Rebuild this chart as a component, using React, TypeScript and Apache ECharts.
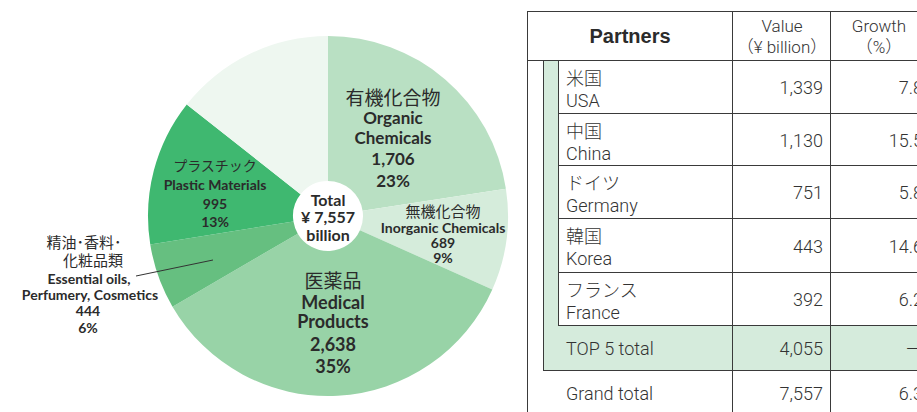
import React, { useEffect, useRef } from "react";
import * as echarts from "echarts";

// ---- Data ----
const categoriesJa = ["有機化合物", "無機化合物", "医薬品", "精油･香料･\n化粧品類", "プラスチック", "その他"];
const categoriesEn = ["Organic\nChemicals", "Inorganic Chemicals", "Medical\nProducts", "Essential oils,\nPerfumery, Cosmetics", "Plastic Materials", "Others"];
const values = [1706, 689, 2638, 444, 995, 1085];
const totalValue = 7557;
const sliceColors = ["#b9e0c3", "#d5ecdb", "#98d3a7", "#66bf80", "#3fb870", "#eef7f0"];

const partnersJa = ["米国", "中国", "ドイツ", "韓国", "フランス"];
const partnersEn = ["USA", "China", "Germany", "Korea", "France"];
const partnerValues = [1339, 1130, 751, 443, 392];
const partnerGrowth = ["7.8", "15.5", "5.8", "14.6", "6.2"];
const top5Total = 4055;
const top5Growth = "—";
const grandTotal = 7557;
const grandGrowth = "6.3";

const fmt = (v: number) => v.toLocaleString("en-US");

// label layout per slice (positions only)
const labelLayout: any[] = [
  { ja: [[393, 96]], en: [[393, 117], [393, 137]], val: [393, 158], pct: [393, 180], jaSize: 19, enSize: 17, numSize: 17 },
  { ja: [[443, 210]], en: [[443, 227]], val: [443, 242], pct: [443, 257], jaSize: 15, enSize: 14, numSize: 14 },
  { ja: [[333, 279]], en: [[333, 302], [333, 321]], val: [333, 344], pct: [333, 366], jaSize: 19, enSize: 18, numSize: 18 },
  { ja: [[84, 241], [93, 259]], en: [[89, 278], [90, 294]], val: [88, 310], pct: [88, 327], jaSize: 15, enSize: 14, numSize: 14 },
  { ja: [[215, 165]], en: [[215, 184]], val: [215, 203], pct: [215, 221], jaSize: 14, enSize: 14, numSize: 14 },
  null,
];

const TXT = "#2b2b2b";
const LINE = "#3a3a3a";
const GREEN = "#d5ebdc";
const latin = "Lato, 'Noto Sans', sans-serif";
const cjk = "'Noto Sans CJK JP', sans-serif";
const tfont = "Roboto, 'Liberation Sans', 'Noto Sans CJK JP', sans-serif";

function text(x: number, y: number, t: string, size: number, opts: any = {}) {
  return {
    type: "text",
    x,
    y,
    z: 100,
    silent: true,
    style: {
      text: t,
      fill: opts.fill || TXT,
      font: `${opts.weight || "normal"} ${size}px ${opts.family || latin}`,
      textAlign: opts.align || "center",
      textVerticalAlign: "middle",
    },
  } as any;
}

function line(x1: number, y1: number, x2: number, y2: number) {
  return {
    type: "line",
    z: 50,
    silent: true,
    shape: { x1, y1, x2, y2 },
    style: { stroke: LINE, lineWidth: 1 },
  } as any;
}

export default function App() {
  const ref = useRef<HTMLDivElement>(null);
  useEffect(() => {
    if (!ref.current) return;
    const chart = echarts.init(ref.current, null, { renderer: "svg" });
    const graphics: any[] = [];

    // pie labels
    values.forEach((v, i) => {
      const L = labelLayout[i];
      if (!L) return;
      const jaLines = categoriesJa[i].split("\n");
      jaLines.forEach((s, k) => graphics.push(text(L.ja[k][0], L.ja[k][1], s, L.jaSize, { family: cjk })));
      const enLines = categoriesEn[i].split("\n");
      enLines.forEach((s, k) => graphics.push(text(L.en[k][0], L.en[k][1], s, L.enSize, { weight: "bold" })));
      graphics.push(text(L.val[0], L.val[1], fmt(v), L.numSize, { weight: "bold" }));
      graphics.push(text(L.pct[0], L.pct[1], Math.round((v / totalValue) * 100) + "%", L.numSize, { weight: "bold" }));
    });
    // leader line for essential oils
    graphics.push({ type: "line", z: 100, silent: true, shape: { x1: 136, y1: 276, x2: 213, y2: 260 }, style: { stroke: "#333", lineWidth: 1 } });
    // center
    graphics.push(text(328, 199, "Total", 16, { weight: "bold" }));
    graphics.push(text(328, 216, "¥ " + fmt(totalValue), 16, { weight: "bold" }));
    graphics.push(text(328, 234, "billion", 16, { weight: "bold" }));

    // ---- table ----
    const L0 = 527, LG = 543, LI = 558, C1 = 732, C2 = 830, R = 917;
    const T = 11, H = 60;
    const rowTops = [60, 113, 165, 218, 272, 325];
    const T5B = 370, B = 412;
    graphics.push({ type: "rect", z: 40, silent: true, shape: { x: LG, y: H, width: LI - LG, height: T5B - H }, style: { fill: GREEN } });
    graphics.push({ type: "rect", z: 40, silent: true, shape: { x: LG, y: 325, width: R - LG, height: T5B - 325 }, style: { fill: GREEN } });
    graphics.push(line(L0 + 0.5, T, L0 + 0.5, B));
    graphics.push(line(L0, T + 0.5, R, T + 0.5));
    graphics.push(line(L0, H + 0.5, R, H + 0.5));
    graphics.push(line(C1 + 0.5, T, C1 + 0.5, B));
    graphics.push(line(C2 + 0.5, T, C2 + 0.5, B));
    graphics.push(line(LG + 0.5, H, LG + 0.5, T5B));
    graphics.push(line(LI + 0.5, H, LI + 0.5, 325));
    rowTops.slice(1).forEach((y) => graphics.push(line(LI, y + 0.5, R, y + 0.5)));
    graphics.push(line(LG, T5B + 0.5, R, T5B + 0.5));

    const tOpts = { family: tfont, weight: 300, fill: "#333" };
    graphics.push(text(630, 36, "Partners", 20, { weight: "bold", family: "'Liberation Sans', Arial, sans-serif" }));
    graphics.push(text(782, 26, "Value", 17, tOpts));
    graphics.push(text(782, 47, "（¥ billion）", 17, tOpts));
    graphics.push(text(879, 26, "Growth", 17, tOpts));
    graphics.push(text(879, 47, "（%）", 17, tOpts));

    partnersJa.forEach((ja, i) => {
      const t = rowTops[i];
      const b = rowTops[i + 1];
      const mid = (t + b) / 2;
      graphics.push(text(566, t + 17, ja, 18, { ...tOpts, family: cjk, align: "left" }));
      graphics.push(text(566, t + 40, partnersEn[i], 18, { ...tOpts, align: "left" }));
      graphics.push(text(823, mid + 1, fmt(partnerValues[i]), 18, { ...tOpts, align: "right" }));
      graphics.push(text(923, mid + 1, partnerGrowth[i], 18, { ...tOpts, align: "right" }));
    });
    graphics.push(text(566, 348, "TOP 5 total", 18, { ...tOpts, align: "left" }));
    graphics.push(text(823, 348, fmt(top5Total), 18, { ...tOpts, align: "right" }));
    graphics.push(text(906, 348, top5Growth, 18, { ...tOpts, align: "left" }));
    graphics.push(text(566, 393, "Grand total", 18, { ...tOpts, align: "left" }));
    graphics.push(text(823, 393, fmt(grandTotal), 18, { ...tOpts, align: "right" }));
    graphics.push(text(923, 393, grandGrowth, 18, { ...tOpts, align: "right" }));

    chart.setOption({
      animation: false,
      backgroundColor: "#ffffff",
      series: [
        {
          type: "pie",
          z: 2,
          center: [328, 216],
          radius: [35, 180],
          startAngle: 90,
          clockwise: true,
          label: { show: false },
          labelLine: { show: false },
          emphasis: { disabled: true },
          itemStyle: { borderWidth: 0 },
          data: values.map((v, i) => ({
            name: categoriesEn[i].replace("\n", " "),
            value: v,
            itemStyle: { color: sliceColors[i] },
          })),
        },
      ],
      graphic: { elements: graphics },
    });
    return () => chart.dispose();
  }, []);
  return (
    <div
      ref={ref}
      style={{ position: "fixed", left: 0, top: 0, width: 917, height: 412, background: "#fff" }}
    />
  );
}
